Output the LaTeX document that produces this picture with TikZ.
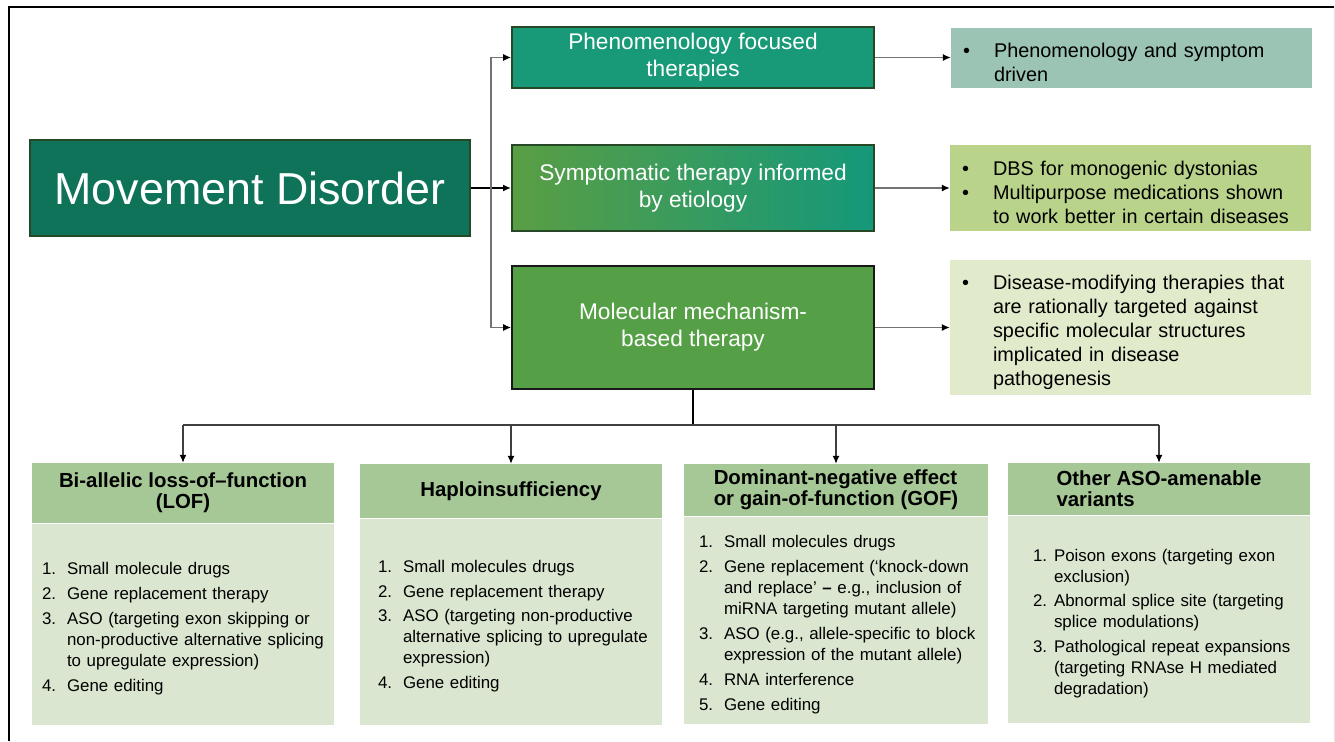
\documentclass[tikz,border=0pt]{standalone}
\usepackage{fontspec}
\setmainfont{Liberation Sans}
\usepackage{enumitem}
\usetikzlibrary{arrows.meta,positioning}
\definecolor{mdfill}{RGB}{14,115,89}
\definecolor{mddraw}{RGB}{38,72,38}
\definecolor{phenofill}{RGB}{24,154,121}
\definecolor{sympleft}{RGB}{90,158,68}
\definecolor{sympmid}{RGB}{44,154,80}
\definecolor{sympright}{RGB}{20,152,122}
\definecolor{molfill}{RGB}{85,160,70}
\definecolor{notefill1}{RGB}{155,196,181}
\definecolor{notefill2}{RGB}{185,211,138}
\definecolor{notefill3}{RGB}{225,235,203}
\definecolor{headfill}{RGB}{166,200,150}
\definecolor{bodyfill}{RGB}{218,230,208}
\setlist[enumerate]{label=\arabic*., align=left, labelwidth=0.3cm, labelsep=0.2cm,
  topsep=0pt, partopsep=0pt, parsep=0pt, itemsep=2.3pt}
\setlist[itemize]{label=\textbullet, align=left, labelindent=0.14cm, labelwidth=0.3cm,
  labelsep=0.32cm, leftmargin=0.76cm, topsep=0pt, partopsep=0pt, parsep=0pt, itemsep=0pt}
\tikzset{
  % arrow
	cstra/.style      ={-{Latex[length=4.5pt,width=4pt,color=black]}}, % right arrow
	cstgray/.style    ={draw=black!55, line width=0.6pt},
	cstdark/.style    ={draw=black!75, line width=0.6pt},
	cstthick/.style   ={draw=black, line width=1.2pt},
  % node
	cstmain/.style    ={fill=mdfill, draw=mddraw, line width=1.2pt, text=white,
	                    minimum width=8.8cm, minimum height=1.92cm, font=\fontsize{25.5pt}{30pt}\selectfont},
	cstmid/.style     ={draw=mddraw, line width=1.2pt, text=white, align=center,
	                    minimum width=7.24cm, font=\fontsize{12.9pt}{15.3pt}\selectfont},
	cstnote/.style    ={minimum width=7.22cm, text width=7.02cm, inner xsep=0.1cm,
	                    font=\fontsize{11.3pt}{13.6pt}\selectfont},
	csthead/.style    ={fill=headfill, minimum width=6.04cm, inner sep=0pt,
	                    font=\bfseries\fontsize{11.6pt}{11.9pt}\selectfont},
	cstbody/.style    ={fill=bodyfill, minimum width=6.04cm, text width=5.84cm, inner xsep=0.1cm,
	                    font=\fontsize{9.6pt}{11.9pt}\selectfont}
}

\begin{document}
\begin{tikzpicture}[x=0.02cm,y=-0.02cm]
	\useasboundingbox (0,0) rectangle (1335,741);
	\draw[line width=1.2pt] (9,741) -- (9,7) -- (1334,7);
	\draw[black!10] (1334,7) -- (1334,741);

	\node[cstmain] (md) at (250,188) {Movement Disorder};

	\node[cstmid, fill=phenofill, minimum height=1.22cm] (pheno) at (693,57.5)
		{Phenomenology focused\\therapies};
	\node[cstmid, left color=sympleft, middle color=sympmid, right color=sympright,
		minimum height=1.72cm] (sympt) at (693,188)
		{Symptomatic therapy informed\\by etiology};
	\node[cstmid, fill=molfill, draw=black!90, minimum height=2.46cm] (molec) at (693,327.5)
		{Molecular mechanism-\\based therapy};

	\node[cstnote, fill=notefill1, minimum height=1.2cm] (notea) at (1131.5,58)
		{\begin{itemize}\item Phenomenology and symptom\newline driven\end{itemize}};
	\node[cstnote, fill=notefill2, minimum height=1.72cm] (noteb) at (1130.5,188)
		{\begin{itemize}\item DBS for monogenic dystonias
		\item Multipurpose medications shown\newline to work better in certain diseases\end{itemize}};
	\node[cstnote, fill=notefill3, minimum height=2.46cm] (notec) at (1130.5,327.5)
		{\begin{itemize}\item Disease-modifying therapies that\newline are rationally targeted against\newline
		specific molecular structures\newline implicated in disease\newline pathogenesis\end{itemize}};

	\node[csthead, minimum height=1.2cm, align=center] (lofh) at (183,493)
		{Bi-allelic loss-of--function\\(LOF)};
	\node[csthead, minimum height=1.08cm] (haph) at (511,491) {Haploinsufficiency};
	\node[csthead, minimum height=1.04cm, minimum width=6.08cm, align=left] (dnh) at (836,490)
		{Dominant-negative effect\\or gain-of-function (GOF)};
	\node[csthead, minimum height=1.04cm, align=left] (oth) at (1159,489)
		{Other ASO-amenable\\variants};

	\node[cstbody, minimum height=4.02cm, below=0pt of lofh] (lofb)
		{\begin{enumerate}[labelindent=0.1cm, leftmargin=0.6cm]
		\item Small molecule drugs
		\item Gene replacement therapy
		\item ASO (targeting exon skipping or\newline non-productive alternative splicing\newline to upregulate expression)
		\item Gene editing
		\end{enumerate}};
	\node[cstbody, minimum height=4.12cm, below=0pt of haph] (hapb)
		{\begin{enumerate}[labelindent=0.26cm, leftmargin=0.76cm]
		\item Small molecules drugs
		\item Gene replacement therapy
		\item ASO (targeting non-productive\newline alternative splicing to upregulate\newline expression)
		\item Gene editing
		\end{enumerate}};
	\node[cstbody, minimum width=6.08cm, minimum height=4.14cm, below=0pt of dnh] (dnb)
		{\begin{enumerate}[labelindent=0.18cm, leftmargin=0.68cm]
		\item Small molecules drugs
		\item Gene replacement (‘knock-down\newline and replace’ \textbf{--} e.g., inclusion of\newline miRNA targeting mutant allele)
		\item ASO (e.g., allele-specific to block\newline expression of the mutant allele)
		\item RNA interference
		\item Gene editing
		\end{enumerate}};
	\node[cstbody, minimum height=4.14cm, below=0pt of oth] (otb)
		{\begin{enumerate}[labelindent=0.4cm, labelsep=0.12cm, leftmargin=0.82cm]
		\item Poison exons (targeting exon\newline exclusion)
		\item Abnormal splice site (targeting\newline splice modulations)
		\item Pathological repeat expansions\newline (targeting RNAse H mediated\newline degradation)
		\end{enumerate}};

	% connectors
	\coordinate (split) at (491,188);
	\coordinate (fork) at (693,425);
	\draw[cstthick,cstra] (md) -- (sympt);
	\draw[cstgray,cstra] (split) |- (pheno);
	\draw[cstgray,cstra] (split) |- (molec);
	\draw[cstgray,cstra] (pheno.east) -- (pheno.east -| notea.west);
	\draw[cstgray,cstra] (sympt.east) -- (sympt.east -| noteb.west);
	\draw[cstgray,cstra] (molec.east) -- (molec.east -| notec.west);
	\draw[cstthick] (molec) -- (fork);
	\draw[cstdark] (fork -| lofh) -- (fork -| oth);
	\foreach \n in {lofh,haph,dnh,oth}
		\draw[cstdark,cstra] (fork -| \n) -- (\n);
\end{tikzpicture}
\end{document}
